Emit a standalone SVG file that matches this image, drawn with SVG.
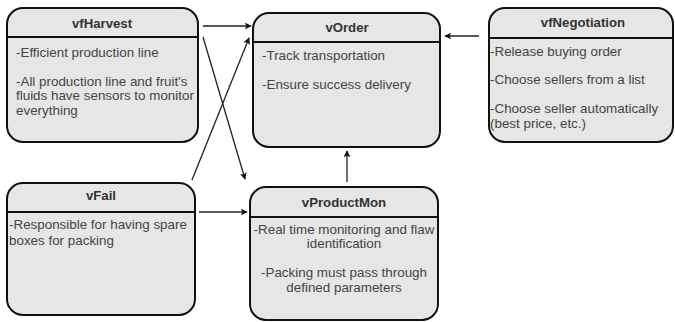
<svg xmlns="http://www.w3.org/2000/svg" width="675" height="322" viewBox="0 0 675 322">
<defs>
<style>
.box{fill:#e6e6e6;stroke:#111;stroke-width:2}
.div{stroke:#111;stroke-width:2}
.t{font-family:"Liberation Sans",Arial,sans-serif;font-size:13.2px;font-weight:bold;fill:#333;text-anchor:middle}
.b{font-family:"Liberation Sans",Arial,sans-serif;font-size:13.4px;fill:#444}
.c{text-anchor:middle}
.e{stroke:#222;stroke-width:1.3;fill:none;marker-end:url(#ah)}
</style>
<marker id="ah" viewBox="0 0 10 10" refX="9" refY="5" markerWidth="7" markerHeight="7" markerUnits="userSpaceOnUse" orient="auto">
<path d="M0,0 L10,5 L0,10 L2.5,5 Z" fill="#111"/>
</marker>
</defs>
<rect width="675" height="322" fill="#fff"/>
<g id="connectors">
<line class="e" x1="203" y1="26" x2="251" y2="26"/>
<line class="e" x1="203" y1="37" x2="245" y2="179"/>
<line class="e" x1="192" y1="180" x2="249" y2="38"/>
<line class="e" x1="199" y1="212" x2="247" y2="212"/>
<line class="e" x1="347" y1="182" x2="347" y2="151"/>
<line class="e" x1="479" y1="36" x2="445" y2="36"/>
</g>
<g id="vfHarvest">
<rect class="box" x="7" y="8" width="191" height="134" rx="16"/>
<line class="div" x1="7" y1="37" x2="198" y2="37"/>
<text class="t" x="102" y="28">vfHarvest</text>
<text class="b" x="16" y="57">-Efficient production line</text>
<text class="b" x="16" y="86">-All production line and fruit's</text>
<text class="b" x="16" y="100">fluids have sensors to monitor</text>
<text class="b" x="16" y="115">everything</text>
</g>
<g id="vOrder">
<rect class="box" x="253" y="13" width="187" height="134" rx="16"/>
<line class="div" x1="253" y1="42" x2="440" y2="42"/>
<text class="t" x="347" y="32">vOrder</text>
<text class="b" x="262" y="60">-Track transportation</text>
<text class="b" x="262" y="89">-Ensure success delivery</text>
</g>
<g id="vfNegotiation">
<rect class="box" x="489" y="8" width="184" height="134" rx="16"/>
<line class="div" x1="489" y1="38" x2="673" y2="38"/>
<text class="t" x="583" y="27">vfNegotiation</text>
<text class="b" x="490" y="56">-Release buying order</text>
<text class="b" x="490" y="84">-Choose sellers from a list</text>
<text class="b" x="490" y="113">-Choose seller automatically</text>
<text class="b" x="490" y="128">(best price, etc.)</text>
</g>
<g id="vFail">
<rect class="box" x="7" y="183" width="188" height="132" rx="16"/>
<line class="div" x1="7" y1="212" x2="195" y2="212"/>
<text class="t" x="101" y="200">vFail</text>
<text class="b" x="9" y="229">-Responsible for having spare</text>
<text class="b" x="9" y="245">boxes for packing</text>
</g>
<g id="vProductMon">
<rect class="box" x="250" y="187" width="188" height="133" rx="16"/>
<line class="div" x1="250" y1="217" x2="438" y2="217"/>
<text class="t" x="344" y="207">vProductMon</text>
<text class="b c" x="344" y="234">-Real time monitoring and flaw</text>
<text class="b c" x="344" y="248">identification</text>
<text class="b c" x="344" y="277">-Packing must pass through</text>
<text class="b c" x="344" y="292">defined parameters</text>
</g>
</svg>
